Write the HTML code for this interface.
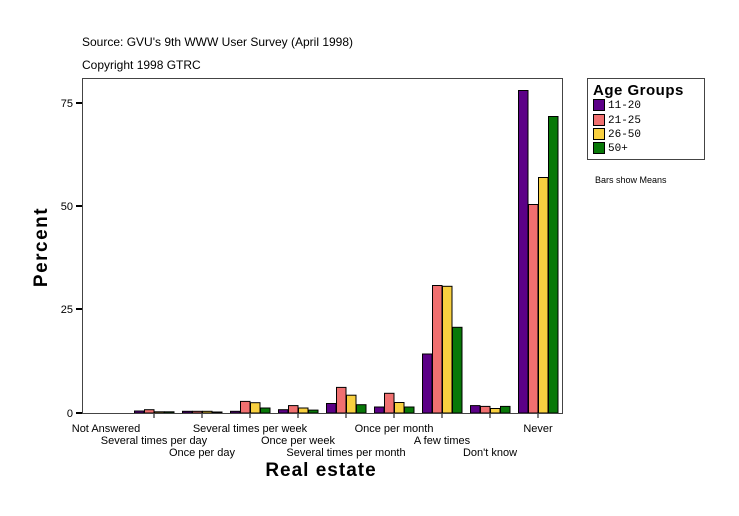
<!DOCTYPE html>
<html><head><meta charset="utf-8"><style>
html,body{margin:0;padding:0;background:#fff;}
svg{display:block;}
text{font-family:"Liberation Sans",Arial,sans-serif;}
</style></head><body>
<svg width="739" height="516" xmlns="http://www.w3.org/2000/svg">
<rect width="739" height="516" fill="#fff"/>
<text x="82" y="46" font-size="12" fill="#000">Source: GVU's 9th WWW User Survey (April 1998)</text>
<text x="82" y="69" font-size="12" fill="#000">Copyright 1998 GTRC</text>
<rect x="82.5" y="78.5" width="480" height="335" fill="none" stroke="#444" stroke-width="1"/>
<g stroke="#000" stroke-width="2">
<line x1="76" y1="413" x2="82" y2="413"/>
<line x1="76" y1="309" x2="82" y2="309"/>
<line x1="76" y1="206" x2="82" y2="206"/>
<line x1="76" y1="103" x2="82" y2="103"/>
</g>
<g font-size="11" text-anchor="end" fill="#000">
<text x="73" y="417">0</text><text x="73" y="313">25</text><text x="73" y="210">50</text><text x="73" y="107">75</text>
</g>
<text transform="translate(47,247) rotate(-90)" font-size="19" font-weight="bold" text-anchor="middle" letter-spacing="1.5">Percent</text>
<g stroke="#000" stroke-width="1">
<line x1="154" y1="413" x2="154" y2="418"/><line x1="202" y1="413" x2="202" y2="418"/>
<line x1="250" y1="413" x2="250" y2="418"/><line x1="298" y1="413" x2="298" y2="418"/>
<line x1="346" y1="413" x2="346" y2="418"/><line x1="394" y1="413" x2="394" y2="418"/>
<line x1="442" y1="413" x2="442" y2="418"/><line x1="490" y1="413" x2="490" y2="418"/>
<line x1="538" y1="413" x2="538" y2="418"/>
</g>
<g font-size="11" text-anchor="middle" fill="#000">
<text x="106" y="432">Not Answered</text>
<text x="154" y="444">Several times per day</text>
<text x="202" y="456">Once per day</text>
<text x="250" y="432">Several times per week</text>
<text x="298" y="444">Once per week</text>
<text x="346" y="456">Several times per month</text>
<text x="394" y="432">Once per month</text>
<text x="442" y="444">A few times</text>
<text x="490" y="456">Don't know</text>
<text x="538" y="432">Never</text>
</g>
<text x="321" y="476" font-size="19" font-weight="bold" text-anchor="middle" letter-spacing="1">Real estate</text>
<rect x="587.5" y="78.5" width="117" height="81" fill="#fff" stroke="#444"/>
<text x="593" y="95" font-size="15" font-weight="bold" letter-spacing="0.5">Age Groups</text>
<g stroke="#000" stroke-width="1">
<rect x="593.5" y="99.5" width="11" height="11" fill="#5c0087"/>
<rect x="593.5" y="114.5" width="11" height="11" fill="#f07070"/>
<rect x="593.5" y="128.5" width="11" height="11" fill="#f8d040"/>
<rect x="593.5" y="142.5" width="11" height="11" fill="#087808"/>
</g>
<g font-size="11" style="font-family:'Liberation Mono',monospace">
<text x="608" y="108" style="font-family:'Liberation Mono',monospace">11-20</text>
<text x="608" y="123" style="font-family:'Liberation Mono',monospace">21-25</text>
<text x="608" y="137" style="font-family:'Liberation Mono',monospace">26-50</text>
<text x="608" y="151" style="font-family:'Liberation Mono',monospace">50+</text>
</g>
<text x="595" y="183" font-size="9">Bars show Means</text>
<g stroke="#000" stroke-width="1">
<rect x="134.5" y="411" width="9.5" height="2" fill="#5c0087"/><rect x="144.5" y="409.7" width="9.5" height="3.3" fill="#f07070"/><rect x="154.5" y="411.8" width="9.5" height="1.2" fill="#f8d040"/><rect x="164.5" y="411.8" width="9.5" height="1.2" fill="#087808"/>
<rect x="182.5" y="411.3" width="9.5" height="1.7" fill="#5c0087"/><rect x="192.5" y="411.3" width="9.5" height="1.7" fill="#f07070"/><rect x="202.5" y="411.3" width="9.5" height="1.7" fill="#f8d040"/><rect x="212.5" y="412" width="9.5" height="1" fill="#087808"/>
<rect x="230.5" y="411.3" width="9.5" height="1.7" fill="#5c0087"/><rect x="240.5" y="401.4" width="9.5" height="11.6" fill="#f07070"/><rect x="250.5" y="402.7" width="9.5" height="10.3" fill="#f8d040"/><rect x="260.5" y="408" width="9.5" height="5" fill="#087808"/>
<rect x="278.5" y="409.7" width="9.5" height="3.3" fill="#5c0087"/><rect x="288.5" y="405.6" width="9.5" height="7.4" fill="#f07070"/><rect x="298.5" y="408" width="9.5" height="5" fill="#f8d040"/><rect x="308.5" y="410.1" width="9.5" height="2.9" fill="#087808"/>
<rect x="326.5" y="403.5" width="9.5" height="9.5" fill="#5c0087"/><rect x="336.5" y="387.4" width="9.5" height="25.6" fill="#f07070"/><rect x="346.5" y="395.2" width="9.5" height="17.8" fill="#f8d040"/><rect x="356.5" y="404.7" width="9.5" height="8.3" fill="#087808"/>
<rect x="374.5" y="407" width="9.5" height="6" fill="#5c0087"/><rect x="384.5" y="393.3" width="9.5" height="19.7" fill="#f07070"/><rect x="394.5" y="402.5" width="9.5" height="10.5" fill="#f8d040"/><rect x="404.5" y="407" width="9.5" height="6" fill="#087808"/>
<rect x="422.5" y="354" width="9.5" height="59" fill="#5c0087"/><rect x="432.5" y="285.5" width="9.5" height="127.5" fill="#f07070"/><rect x="442.5" y="286.3" width="9.5" height="126.7" fill="#f8d040"/><rect x="452.5" y="327.3" width="9.5" height="85.7" fill="#087808"/>
<rect x="470.5" y="405.6" width="9.5" height="7.4" fill="#5c0087"/><rect x="480.5" y="406.4" width="9.5" height="6.6" fill="#f07070"/><rect x="490.5" y="408.5" width="9.5" height="4.5" fill="#f8d040"/><rect x="500.5" y="406.4" width="9.5" height="6.6" fill="#087808"/>
<rect x="518.5" y="90.5" width="9.5" height="322.5" fill="#5c0087"/><rect x="528.5" y="204.5" width="9.5" height="208.5" fill="#f07070"/><rect x="538.5" y="177.5" width="9.5" height="235.5" fill="#f8d040"/><rect x="548.5" y="116.5" width="9.5" height="296.5" fill="#087808"/>
</g>
<line x1="82" y1="413.5" x2="563" y2="413.5" stroke="#444"/>
</svg>
</body></html>
